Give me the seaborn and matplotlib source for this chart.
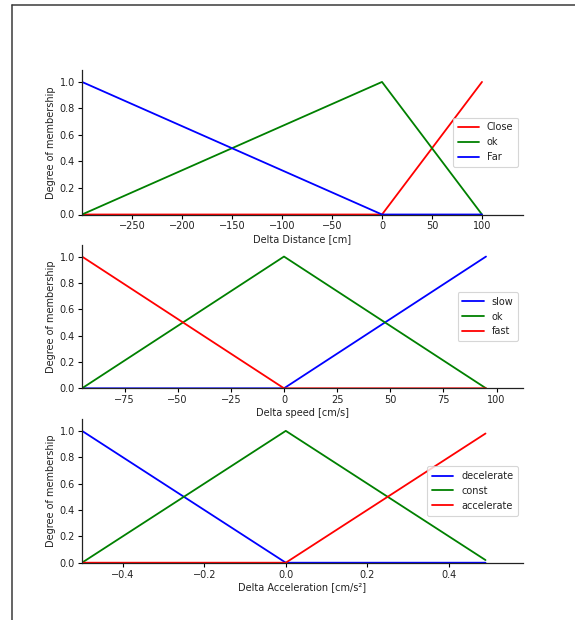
import matplotlib
matplotlib.use("Agg")
import matplotlib.pyplot as plt
from matplotlib.lines import Line2D
import seaborn as sns

# Delta distance membership functions
dist_x = [-300, 0, 100]
dist_close = [0, 0, 1]
dist_ok = [0, 1, 0]
dist_far = [1, 0, 0]
dist_ticks = [-250, -200, -150, -100, -50, 0, 50, 100]

# Delta speed membership functions
speed_x = [-95, 0, 95]
speed_slow = [0, 0, 1]
speed_ok = [0, 1, 0]
speed_fast = [1, 0, 0]
speed_ticks = [-75, -50, -25, 0, 25, 50, 75, 100]

# Delta acceleration membership functions
acc_x = [-0.5, 0.0, 0.49]
acc_decel = [1, 0, 0]
acc_const = [0, 1, 0.02]
acc_accel = [0, 0, 0.98]
acc_ticks = [-0.4, -0.2, 0.0, 0.2, 0.4]

y_ticks = [0.0, 0.2, 0.4, 0.6, 0.8, 1.0]

sns.set_style("ticks")
plt.rcParams["font.family"] = ["DejaVu Sans"]
plt.rcParams["font.size"] = 7
plt.rcParams["axes.edgecolor"] = "black"
plt.rcParams["text.color"] = "#222222"
plt.rcParams["axes.labelcolor"] = "#222222"
plt.rcParams["xtick.color"] = "black"
plt.rcParams["ytick.color"] = "black"
plt.rcParams["xtick.labelcolor"] = "#222222"
plt.rcParams["ytick.labelcolor"] = "#222222"

fig = plt.figure(figsize=(5.75, 6.2), dpi=100)
W, H = 575.0, 620.0
left = 82 / W
width = (523 - 82) / W

def make_ax(top_px, bot_px):
    return fig.add_axes([left, 1 - bot_px / H, width, (bot_px - top_px) / H])

ax1 = make_ax(70, 214.5)
ax2 = make_ax(244.7, 388.3)
ax3 = make_ax(419, 562.7)

lw = 1.3

def draw(ax, x, series, xlim, xticks, xlabel):
    for y, color, name in series:
        sns.lineplot(x=x, y=y, color=color, label=name, ax=ax, linewidth=lw,
                     sort=False, estimator=None)
    ax.set_xlim(*xlim)
    ax.set_ylim(0, 1.09)
    ax.set_xticks(xticks)
    ax.set_yticks(y_ticks)
    ax.set_xlabel(xlabel, fontsize=7, labelpad=2)
    ax.set_ylabel("Degree of membership", fontsize=7, labelpad=3)
    ax.tick_params(axis="both", labelsize=7, length=3, width=0.8, pad=2)
    for s in ("top", "right"):
        ax.spines[s].set_visible(False)
    for s in ("left", "bottom"):
        ax.spines[s].set_linewidth(0.9)
        ax.spines[s].set_color("#222222")
    leg = ax.legend(loc="center right", fontsize=7, frameon=True,
                    handlelength=2.2, borderpad=0.5, labelspacing=0.5)
    leg.get_frame().set_edgecolor("#cccccc")
    leg.get_frame().set_linewidth(0.8)

draw(ax1, dist_x,
     [(dist_close, "red", "Close"), (dist_ok, "green", "ok"), (dist_far, "blue", "Far")],
     (-300, 141), dist_ticks, "Delta Distance [cm]")
ax1.xaxis.set_major_formatter(matplotlib.ticker.FuncFormatter(lambda v, p: f"{int(v)}".replace("-", "\u2212")))

draw(ax2, speed_x,
     [(speed_slow, "blue", "slow"), (speed_ok, "green", "ok"), (speed_fast, "red", "fast")],
     (-95, 112.4), speed_ticks, "Delta speed [cm/s]")
ax2.xaxis.set_major_formatter(matplotlib.ticker.FuncFormatter(lambda v, p: f"{int(v)}".replace("-", "\u2212")))

draw(ax3, acc_x,
     [(acc_decel, "blue", "decelerate"), (acc_const, "green", "const"), (acc_accel, "red", "accelerate")],
     (-0.5, 0.582), acc_ticks, "Delta Acceleration [cm/s\u00b2]")

# page frame lines
fig.add_artist(Line2D([12 / W, 1.0], [1 - 5 / H, 1 - 5 / H], color="#3a3a3a", linewidth=1.1))
fig.add_artist(Line2D([12 / W, 12 / W], [0.0, 1 - 5 / H], color="#3a3a3a", linewidth=1.1))

fig.savefig("out.png", dpi=100)
